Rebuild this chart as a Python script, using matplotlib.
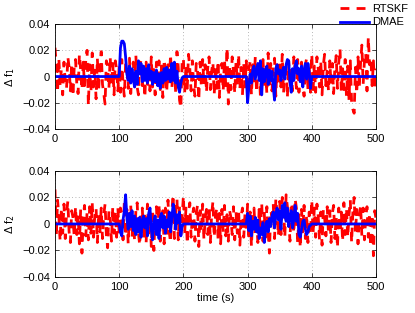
import matplotlib
matplotlib.use("Agg")
import matplotlib.pyplot as plt
import numpy as np

plt.rcParams['font.family'] = ['Liberation Sans', 'DejaVu Sans']

# RTSKF error, sampled every 2 s from 0 to 500 (units of 1e-3)
rtskf_f1 = [
    22, 9, -12, 14, -7, 6, -14, 11, -4, -9, 15, 7, -11, 10, -15, 8, 13, -6, -13, 17, 5, -10, 11, -7, 13,
    20, -22, 9, -12, 18, -8, 6, -17, 14, -10, 7, 19, -6, -13, -21, 12, 8, -9, 15, -7, 10, -14, 12, 5, -11,
    8, -12, 13, -6, -15, 10, 7, -9, 14, -13, 6, 11, -10, 16, -8, -14, 9, 12, -7, 5, -16, 11, -6, 10, -11,
    15, -8, 7, -14, 11, -6, 12, -10, 8, -16, 13, 5, -12, 9, -7, 17, -9, 6, 12, -13, 19, 7, -18, -24, 10,
    14, -12, 8, -9, 17, 6, -11, 12, -7, -15, 10, 5, -18, 11, -8, 13, -6, 9, -12, 7, 15, -10, 4, 11, -14,
    8, -9, 12, -16, 6, 10, -11, 13, -7, 22, -21, 9, -10, 15, 5, -13, 11, -6, 17, -9, 7, -14, 10, -8, 12,
    -10, 6, 11, -14, 9, -7, 15, -12, 4, 10, -16, 8, 13, -9, 6, -13, 18, -6, 10, -11, 7, 14, -15, 9, -5,
    11, -8, 17, -13, 7, 10, -16, 12, -6, 8, -11, 15, 5, -9, 13, -12, 6, 11, -7, -15, 9, 14, -10, 7, -12,
    17, -10, 8, -12, 15, 6, -8, 12, -14, 9, 17, -7, 4, -11, 12, -6, 10, -13, 7, 16, -9, 11, 21, -12, 6,
    -10, 13, -15, 8, -18, 12, -20, -25, -28, 7, -13, 15, -8, 10, 24, -6, 12, 18, -11, 30, 9, 14, -7, 12, -10,
    6,
]
rtskf_f2 = [
    26, -9, 18, 6, -13, 12, -7, 15, -11, 8, 17, -6, -14, 10, 5, -10, 13, -8, 7, -15, 11, -22, 4, 14, -9,
    9, -12, 13, -7, 16, -10, 6, 12, -14, 8, -6, 12, -11, 7, 15, -8, -18, 10, 5, -13, 13, -7, 9, -10, 12,
    -8, 12, 6, -12, 17, -9, 11, -15, 7, 14, -10, 5, -13, 10, 16, -7, -16, 9, 12, -11, 6, -14, 15, -7, 8,
    -17, 11, -20, 7, 13, -9, 15, -13, 5, 10, -15, 12, -8, 18, -6, -14, 9, 22, -11, 7, 19, -12, 13, -8, 5,
    21, -7, 12, -15, 9, 16, -10, 6, 12, -13, 8, 14, -17, 10, -6, 15, -12, 5, 11, -8, 13, -14, 7, 17, -10,
    6, 12, -11, 8, -15, 11, -6, 14, -9, 7, -13, 10, 5, -8, 13, -12, 9, -7, 11, -16, 6, 12, -10, 8, -6,
    15, -12, 9, -17, 7, 12, -9, 5, -14, 11, -7, 16, -13, 8, -10, 13, -6, -22, 10, 6, 15, -11, 19, 7, -9,
    17, -8, 20, 11, -10, 22, 13, 6, -13, 16, 10, -7, 19, 12, -15, 8, -18, 11, -6, 14, -11, 7, -14, 9, -8,
    18, -7, 12, -10, 15, 6, -12, 9, -16, 11, 5, -9, 13, -7, 10, -14, 8, 14, -11, 6, -18, 12, -6, 9, -13,
    16, -8, 12, -10, 7, 18, -14, 9, 20, -7, 11, -15, 6, 14, -9, 12, -12, 5, 13, -10, 8, -17, 7, -24, 10,
    4,
]

# DMAE error: zero outside the two fault windows (100-200 s and 300-400 s)
dmae_f1_w1 = [0, 22, 27, 27, 25, 15, 2, -3, 8, -5, 6, -2, -8, 4, -6, 12, 2, 10, -4, 8,
              -3, 6, -5, 9, -2, 4, -6, 3, -4, 5, -7, 2, -9, 3, -5, 6, -3, 7, -2, 5,
              -4, 10, -3, 11, -5, 4, -8, -12, -5, -1, 0]
dmae_f1_w2 = [-20, -8, 2, -5, 5, 8, -2, 4, 10, -3, 12, -14, 6, -4, 3, 8, -6, 5, -3, 4,
              -8, -18, 6, 9, 2, 5, -3, 4, 7, -2, 9, 13, 12, -4, -12, 6, -3, 8, 12, 2,
              6, -4, 8, -8, 5, 10, -2, 10, 3, -9, 0]
dmae_f2_w1 = [0, -6, -9, 3, 10, 22, 5, -4, 8, -2, 10, -5, 6, -8, 4, -6, 5, -10, 2, 6,
              -3, 4, -9, 8, 12, -4, -12, 2, 6, -8, 3, -11, 5, 8, -3, 6, -7, 3, -2, 9,
              -6, 4, 15, 10, -4, 7, 1, 9, -9, -2, 0]
dmae_f2_w2 = [8, -5, 6, -9, 2, -4, 5, -6, 3, -11, -3, -8, 1, -14, -4, 2, -6, 4, -2, 6,
              9, -3, 8, 12, 3, 10, -4, 14, 5, 16, 2, 12, -2, 6, 10, -3, 4, 14, 2, 8,
              -8, -10, -4, 2, 3, -4, -8, -6, -2, -1, 0]

t = np.linspace(0, 500, len(rtskf_f1))


def dmae_series(w1, w2):
    d = np.zeros(len(t))
    i1 = np.searchsorted(t, 100)
    i2 = np.searchsorted(t, 300)
    d[i1:i1 + len(w1)] = w1
    d[i2:i2 + len(w2)] = w2
    return d * 1e-3


fig = plt.figure(figsize=(4.15, 3.13), dpi=100)
ax1 = fig.add_axes([0.1325, 0.588, 0.7735, 0.335])
ax2 = fig.add_axes([0.1325, 0.115, 0.7735, 0.339])

panels = [(ax1, rtskf_f1, dmae_f1_w1, dmae_f1_w2, '1'),
          (ax2, rtskf_f2, dmae_f2_w1, dmae_f2_w2, '2')]
for ax, red, w1, w2, k in panels:
    ax.plot(t, np.array(red) * 1e-3, color=(1, 0, 0), lw=2.0,
            linestyle=(0, (3.2, 2.6)), label='RTSKF')
    ax.plot(t, dmae_series(w1, w2), color=(0, 0, 1), lw=2.0, label='DMAE')
    ax.set_xlim(0, 500)
    ax.set_ylim(-0.04, 0.04)
    ax.set_xticks(np.arange(0, 501, 100))
    ax.set_yticks([-0.04, -0.02, 0, 0.02, 0.04])
    ax.set_yticklabels(['\u22120.04', '\u22120.02', '0', '0.02', '0.04'])
    ax.grid(True, color='#a0a0a0', linestyle=(0, (1, 3)), linewidth=0.6)
    ax.tick_params(direction='in', labelsize=8, length=3, width=0.5,
                   top=True, right=True)
    for s in ax.spines.values():
        s.set_linewidth(0.6)
    ax.set_ylabel('\u0394 f$_{%s}$' % k, fontsize=8, labelpad=4)

ax2.set_xlabel('time (s)', fontsize=8, labelpad=1)

h, l = ax1.get_legend_handles_labels()
fig.legend(h, l, loc='upper right', bbox_to_anchor=(1.0, 1.01), frameon=False,
           fontsize=8, handlelength=2.6, labelspacing=0.35, handletextpad=0.3,
           borderaxespad=0.2)

fig.savefig('out.png', dpi=100)
